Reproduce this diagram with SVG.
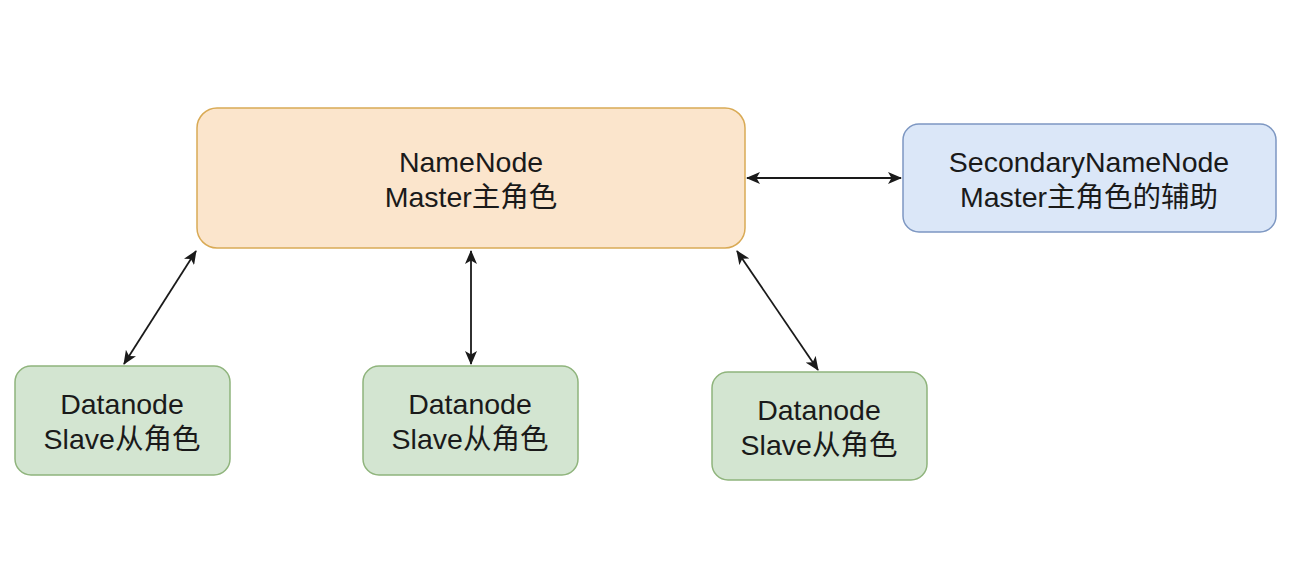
<svg xmlns="http://www.w3.org/2000/svg" width="1310" height="580" viewBox="0 0 1310 580">
<style>
.t{font-family:"Liberation Sans","Noto Sans CJK SC",sans-serif;font-size:28.5px;fill:#1a1a1a;text-anchor:middle}
.nn{fill:#fbe5cc;stroke:#d9aa55;stroke-width:1.5}
.snn{fill:#dbe7f8;stroke:#7d97c2;stroke-width:1.5}
.dn{fill:#d3e5d1;stroke:#8fb47c;stroke-width:1.5}
.c{stroke:#1a1a1a;stroke-width:1.8;fill:none;marker-start:url(#ah);marker-end:url(#ah)}
</style>
<defs>
<marker id="ah" viewBox="0 0 14 12" refX="13" refY="6" markerWidth="14" markerHeight="12" markerUnits="userSpaceOnUse" orient="auto-start-reverse">
<path d="M0,0 L14,6 L0,12 L3.5,6 Z" fill="#1a1a1a"/>
</marker>
</defs>
<rect width="1310" height="580" fill="#ffffff"/>
<g id="connectors">
<line class="c" x1="747" y1="178" x2="901" y2="178"/>
<line class="c" x1="124" y1="364" x2="196" y2="251"/>
<line class="c" x1="471" y1="364" x2="471" y2="251"/>
<line class="c" x1="737" y1="251" x2="818" y2="370"/>
</g>
<g id="namenode">
<rect class="nn" x="197" y="108" width="548" height="140" rx="20"/>
<text class="t" x="471" y="172">NameNode</text>
<text class="t" x="471" y="207">Master主角色</text>
</g>
<g id="secondarynamenode">
<rect class="snn" x="903" y="124" width="373" height="108" rx="16"/>
<text class="t" x="1089" y="172">SecondaryNameNode</text>
<text class="t" x="1089" y="207">Master主角色的辅助</text>
</g>
<g id="datanode1">
<rect class="dn" x="15" y="366" width="215" height="109" rx="16"/>
<text class="t" x="122" y="414">Datanode</text>
<text class="t" x="122" y="449">Slave从角色</text>
</g>
<g id="datanode2">
<rect class="dn" x="363" y="366" width="215" height="109" rx="16"/>
<text class="t" x="470" y="414">Datanode</text>
<text class="t" x="470" y="449">Slave从角色</text>
</g>
<g id="datanode3">
<rect class="dn" x="712" y="372" width="215" height="108" rx="16"/>
<text class="t" x="819" y="420">Datanode</text>
<text class="t" x="819" y="455">Slave从角色</text>
</g>
</svg>
